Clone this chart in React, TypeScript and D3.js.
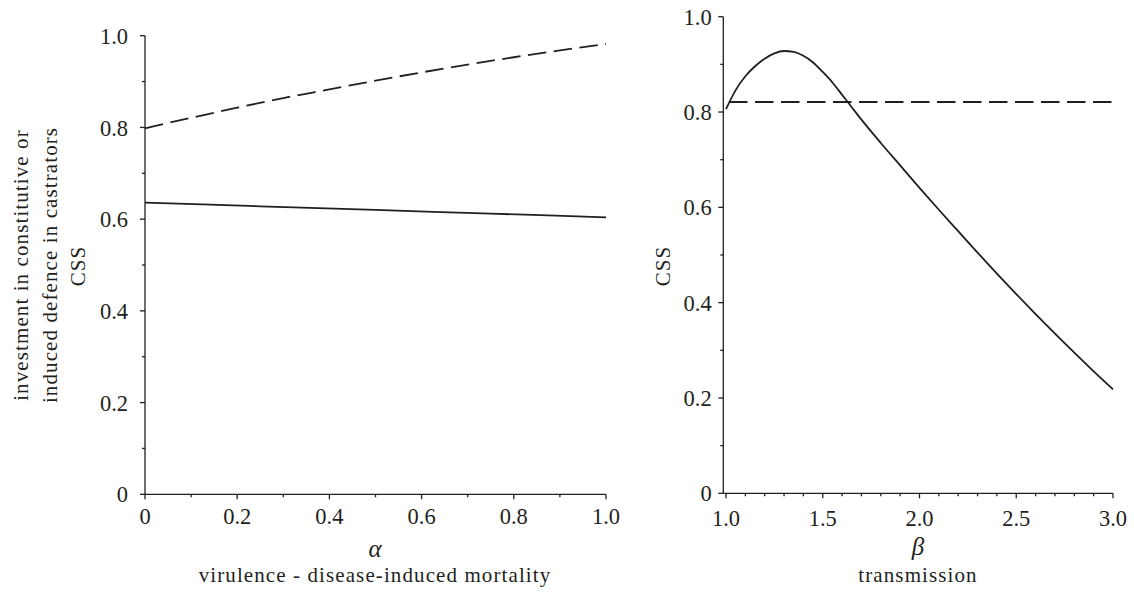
import React from "react";
import * as d3 from "d3";

// Panel (a): CSS against virulence alpha
const alphaVals = [0, 0.1, 0.2, 0.3, 0.4, 0.5, 0.6, 0.7, 0.8, 0.9, 1.0];
const alphaDashed = [0.798, 0.821, 0.843, 0.864, 0.883, 0.902, 0.92, 0.937, 0.953, 0.968, 0.982];
const alphaSolidX = [0, 0.25, 0.5, 0.75, 1.0];
const alphaSolid = [0.636, 0.628, 0.62, 0.612, 0.604];

// Panel (b): CSS against transmission beta
const betaVals = [
  1.0, 1.05, 1.1, 1.15, 1.2, 1.25, 1.3, 1.35, 1.4, 1.45, 1.5, 1.55, 1.6, 1.65, 1.7, 1.8, 1.9, 2.0,
  2.1, 2.2, 2.3, 2.4, 2.5, 2.6, 2.7, 2.8, 2.9, 3.0,
];
const betaSolid = [
  0.806, 0.846, 0.875, 0.896, 0.912, 0.923, 0.928, 0.926, 0.918, 0.904, 0.884, 0.862, 0.836, 0.81,
  0.784, 0.735, 0.688, 0.641, 0.595, 0.55, 0.505, 0.461, 0.418, 0.376, 0.335, 0.295, 0.256, 0.218,
];
const betaDashedX = [1.0, 3.0];
const betaDashed = [0.821, 0.821];

const yTicksMajor = [0, 0.2, 0.4, 0.6, 0.8, 1.0];
const yTicksMinor = [0.1, 0.3, 0.5, 0.7, 0.9];
const alphaTicksMajor = [0, 0.2, 0.4, 0.6, 0.8, 1.0];
const alphaTicksMinor = [0.1, 0.3, 0.5, 0.7, 0.9];
const betaTicksMajor = [1.0, 1.5, 2.0, 2.5, 3.0];
const betaTicksMinor = d3.range(11, 30).filter((v) => v % 5 !== 0).map((v) => v / 10);

const INK = "#231f20";
const FONT = "'Liberation Serif', 'Times New Roman', serif";

const yLabel = (v: number) => (v === 0 ? "0" : v.toFixed(1));

type PanelProps = {
  x: d3.ScaleLinear<number, number>;
  y: d3.ScaleLinear<number, number>;
  axisX: number; // x position of the vertical axis line
  xMajor: number[];
  xMinor: number[];
  xFmt: (v: number) => string;
  xLabelOffset: number;
  yLabelGap: number;
};

function Axes({ x, y, axisX, xMajor, xMinor, xFmt, xLabelOffset, yLabelGap }: PanelProps) {
  const y0 = y(0);
  const xEnd = x.range()[1];
  return (
    <g stroke={INK} fill="none" strokeWidth={1.3}>
      <line x1={axisX} x2={axisX} y1={y0} y2={y(1)} />
      <line x1={axisX} x2={xEnd} y1={y0} y2={y0} />
      {yTicksMajor.map((t) => (
        <line key={"ym" + t} x1={axisX - 5} x2={axisX} y1={y(t)} y2={y(t)} />
      ))}
      {yTicksMinor.map((t) => (
        <line key={"yn" + t} x1={axisX - 3} x2={axisX} y1={y(t)} y2={y(t)} />
      ))}
      {xMajor.map((t) => (
        <line key={"xm" + t} x1={x(t)} x2={x(t)} y1={y0} y2={y0 + 5} />
      ))}
      {xMinor.map((t) => (
        <line key={"xn" + t} x1={x(t)} x2={x(t)} y1={y0} y2={y0 + 3} />
      ))}
      <g stroke="none" fill={INK} fontFamily={FONT} fontSize={22.5}>
        {yTicksMajor.map((t) => (
          <text key={"yl" + t} x={axisX - yLabelGap} y={y(t)} dy="0.36em" textAnchor="end">
            {yLabel(t)}
          </text>
        ))}
        {xMajor.map((t) => (
          <text key={"xl" + t} x={x(t)} y={y0 + xLabelOffset} textAnchor="middle">
            {xFmt(t)}
          </text>
        ))}
      </g>
    </g>
  );
}

export default function App() {
  const xA = d3.scaleLinear().domain([0, 1]).range([145, 606]);
  const yA = d3.scaleLinear().domain([0, 1]).range([494.3, 35.7]);
  const xB = d3.scaleLinear().domain([1, 3]).range([726, 1113]);
  const yB = d3.scaleLinear().domain([0, 1]).range([493.3, 16.7]);

  const lineA = d3
    .line<[number, number]>()
    .x((d) => xA(d[0]))
    .y((d) => yA(d[1]))
    .curve(d3.curveMonotoneX);
  const lineB = d3
    .line<[number, number]>()
    .x((d) => xB(d[0]))
    .y((d) => yB(d[1]))
    .curve(d3.curveMonotoneX);

  const aDash = lineA(alphaVals.map((v, i) => [v, alphaDashed[i]] as [number, number])) || "";
  const aSolid = lineA(alphaSolidX.map((v, i) => [v, alphaSolid[i]] as [number, number])) || "";
  const bSolid = lineB(betaVals.map((v, i) => [v, betaSolid[i]] as [number, number])) || "";
  const bDash = lineB(betaDashedX.map((v, i) => [v, betaDashed[i]] as [number, number])) || "";

  const titleStyle = { letterSpacing: "1.1px" };

  return (
    <svg
      width={1134}
      height={594}
      style={{ position: "absolute", left: 0, top: 0, background: "#fff" }}
    >
      <Axes
        x={xA}
        y={yA}
        axisX={145}
        xMajor={alphaTicksMajor}
        xMinor={alphaTicksMinor}
        xFmt={(v) => (v === 0 ? "0" : v.toFixed(1))}
        xLabelOffset={30}
        yLabelGap={17}
      />
      <Axes
        x={xB}
        y={yB}
        axisX={723.3}
        xMajor={betaTicksMajor}
        xMinor={betaTicksMinor}
        xFmt={(v) => v.toFixed(1)}
        xLabelOffset={32.5}
        yLabelGap={11.6}
      />

      <g fill="none" stroke={INK} strokeWidth={1.8}>
        <path d={aDash} strokeDasharray="18.5 7.5" />
        <path d={aSolid} />
        <path d={bSolid} />
        <path d={bDash} strokeDasharray="18.5 7.5" strokeDashoffset={-3} />
      </g>

      <g fill={INK} fontFamily={FONT} fontSize={21}>
        <text x={375} y={557} textAnchor="middle" fontStyle="italic" fontSize={25}>
          α
        </text>
        <text x={375} y={582} textAnchor="middle" style={titleStyle}>
          virulence - disease-induced mortality
        </text>
        <text x={918} y={555} textAnchor="middle" fontStyle="italic" fontSize={25}>
          β
        </text>
        <text x={918} y={582} textAnchor="middle" style={titleStyle}>
          transmission
        </text>
        <g transform="translate(28,265) rotate(-90)">
          <text x={0} y={0} textAnchor="middle" style={titleStyle}>
            investment in constitutive or
          </text>
        </g>
        <g transform="translate(56.7,265) rotate(-90)">
          <text x={0} y={0} textAnchor="middle" style={titleStyle}>
            induced defence in castrators
          </text>
        </g>
        <g transform="translate(85,266) rotate(-90)">
          <text x={0} y={0} textAnchor="middle" style={titleStyle}>
            CSS
          </text>
        </g>
        <g transform="translate(670,266) rotate(-90)">
          <text x={0} y={0} textAnchor="middle" style={titleStyle}>
            CSS
          </text>
        </g>
      </g>
    </svg>
  );
}
